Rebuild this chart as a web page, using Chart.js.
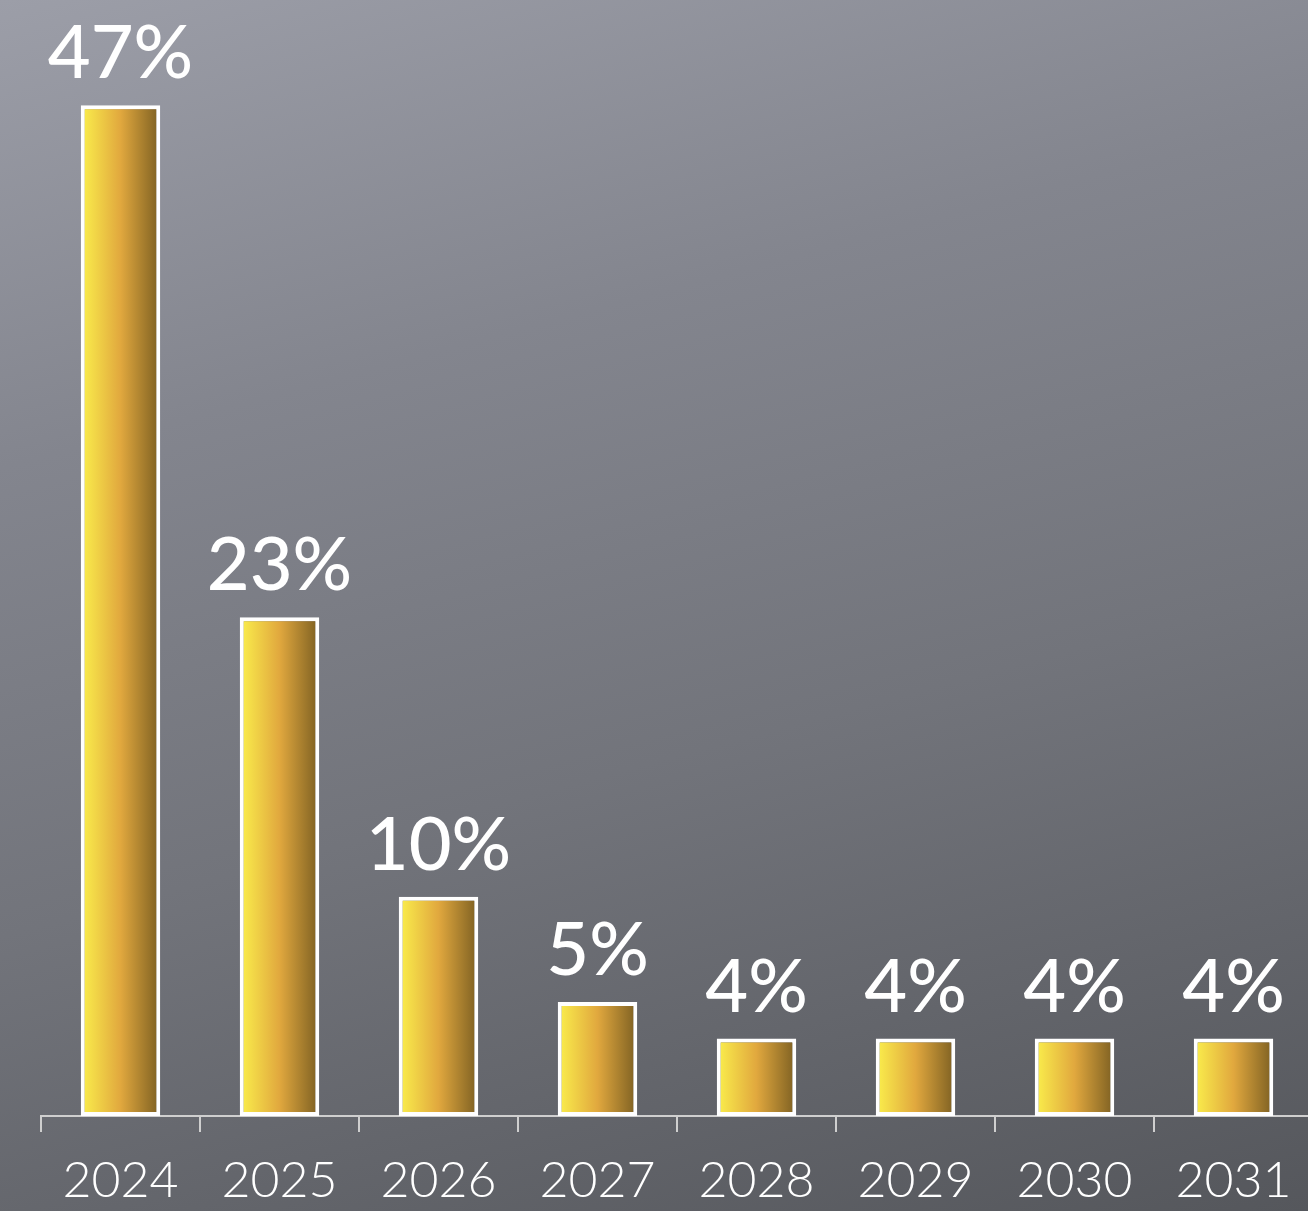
<!DOCTYPE html>
<html>
<head>
<meta charset="utf-8">
<script src="https://cdn.jsdelivr.net/npm/chart.js@4.4.0/dist/chart.umd.min.js"></script>
<style>
  html, body { margin: 0; padding: 0; overflow: hidden; }
  body {
    width: 1308px; height: 1211px;
    background: linear-gradient(165deg, #9c9ea8 0%, #83858e 30%, #72747b 60%, #55575c 100%);
  }
  #wrap { width: 1313px; height: 1211px; position: relative; }
</style>
</head>
<body>
<div id="wrap"><canvas id="chart"></canvas></div>
<script>
// values (labels show them rounded)
const years = ["2024", "2025", "2026", "2027", "2028", "2029", "2030", "2031"];
const shares = [47, 23.2, 10.2, 5.3, 3.6, 3.6, 3.6, 3.6];
const yMax = 51.9;

const barFrac = 0.5;

// yellow -> gold -> brown, left to right across each bar
function barFill(ctx) {
  const chart = ctx.chart;
  const xs = chart.scales.x;
  if (!chart.chartArea || !xs) return "#e0a83c";
  const cx = xs.getPixelForValue(ctx.dataIndex);
  const half = (xs.width / years.length) * barFrac / 2;
  const g = chart.ctx.createLinearGradient(cx - half, 0, cx + half, 0);
  g.addColorStop(0, "#fbf04c");
  g.addColorStop(0.5, "#e1a83e");
  g.addColorStop(1, "#7c5f22");
  return g;
}

const valueLabels = {
  id: "valueLabels",
  afterDatasetsDraw(chart) {
    const c = chart.ctx;
    const meta = chart.getDatasetMeta(0);
    c.save();
    c.fillStyle = "#ffffff";
    c.font = "500 74px Lato";
    c.textAlign = "center";
    c.textBaseline = "alphabetic";
    meta.data.forEach((bar, i) => {
      c.fillText(Math.round(shares[i]) + "%", bar.x, bar.y - 27);
    });
    c.restore();
  }
};

new Chart(document.getElementById("chart"), {
  type: "bar",
  data: {
    labels: years,
    datasets: [{
      data: shares,
      backgroundColor: barFill,
      borderColor: "#ffffff",
      borderWidth: 4,
      borderSkipped: false,
      barPercentage: 1,
      categoryPercentage: barFrac
    }]
  },
  options: {
    responsive: true,
    maintainAspectRatio: false,
    animation: false,
    layout: { padding: { left: 41, right: 0, top: 0, bottom: 0 } },
    plugins: { legend: { display: false }, tooltip: { enabled: false } },
    scales: {
      y: { display: false, min: 0, max: yMax },
      x: {
        afterFit(s) { s.height = 95; },
        border: { display: true, color: "#cfcfcf", width: 2 },
        grid: {
          offset: true,
          drawOnChartArea: false,
          drawTicks: true,
          tickLength: 16,
          color: "#cfcfcf",
          lineWidth: 2
        },
        ticks: {
          color: "#ffffff",
          padding: 19,
          font: { family: "Lato", size: 50, weight: "300" }
        }
      }
    }
  },
  plugins: [valueLabels]
});
</script>
</body>
</html>
